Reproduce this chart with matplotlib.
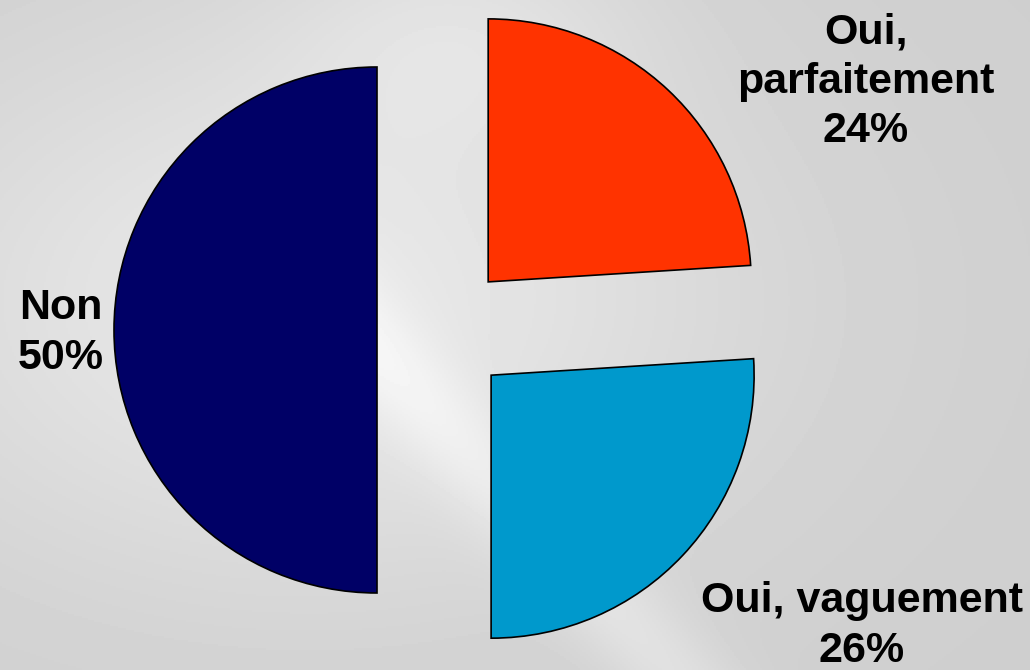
import matplotlib.pyplot as plt
import numpy as np

# data
labels = ["Oui,\nparfaitement\n24%", "Oui, vaguement\n26%", "Non\n50%"]
values = [24, 26, 50]
colors = ["#FF3300", "#0099CC", "#000066"]

fig = plt.figure(figsize=(10.3, 6.7), dpi=100)
ax = fig.add_axes([0, 0, 1, 1])

# grey swooshy background
yy, xx = np.mgrid[0:1:335j, 0:1:515j]
bg = 0.81 + 0.10 * np.exp(-((xx - 0.30)**2 + (yy - 0.45)**2) / 0.18)
bg += 0.06 * np.exp(-((xx - 0.05 - 0.6 * yy)**2) / 0.004) * (yy > 0.35)
bg += 0.05 * np.exp(-((yy - 0.05)**2 + (xx - 0.45)**2) / 0.03)
bg = np.clip(bg, 0, 1)
ax.imshow(bg, extent=[0, 1030, 0, 670], cmap='gray', vmin=0, vmax=1,
          aspect='auto', zorder=0)

# explode is in data units (pixels here)
ax.pie(values, colors=colors, startangle=90, counterclock=False,
       center=(443, 340), radius=263, explode=[66, 66, 66],
       wedgeprops=dict(edgecolor='black', linewidth=1.2), frame=True)
ax.set_xlim(0, 1030)
ax.set_ylim(0, 670)
ax.set_aspect('auto')
ax.axis('off')

font = dict(family='Liberation Sans', fontweight='bold', fontsize=31,
            ha='center', va='center', linespacing=1.3)
ax.text(866, 588, labels[0], **font)
ax.text(862, 44, labels[1], **font)
ax.text(61, 337, labels[2], **font)

fig.savefig("out.png", dpi=100)
